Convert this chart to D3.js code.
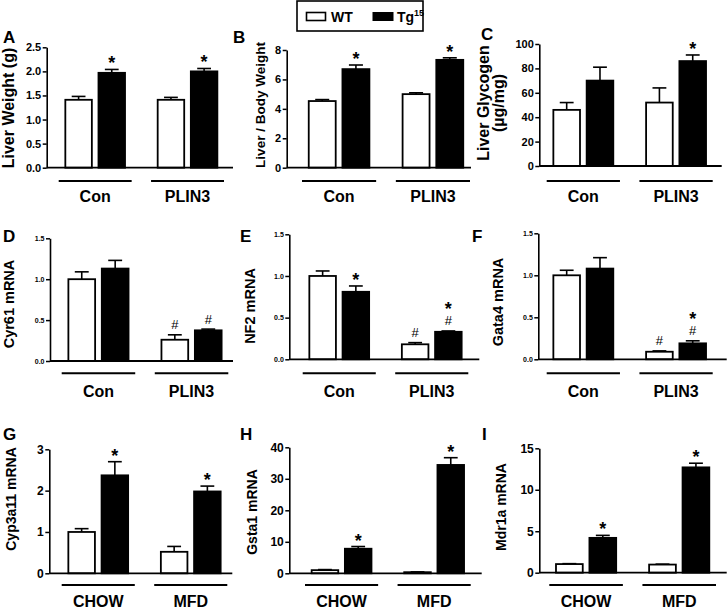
<!DOCTYPE html>
<html><head><meta charset="utf-8">
<script src="https://cdn.jsdelivr.net/npm/d3@7"></script>
<style>body{margin:0;background:#fff} svg{display:block}</style>
</head><body>
<svg id="c" width="728" height="609"></svg>
<script>
// ---------- DATA ----------
const panelIds = ["A","B","C","D","E","F","G","H","I"];
const seriesNames = ["WT","Tg15"];
const groupLabels = [["Con","PLIN3"],["Con","PLIN3"],["Con","PLIN3"],["Con","PLIN3"],["Con","PLIN3"],["Con","PLIN3"],["CHOW","MFD"],["CHOW","MFD"],["CHOW","MFD"]];
const yTitles = [["Liver Weight (g)"],["Liver / Body Weight"],["Liver Glycogen","(µg/mg)"],["Cyr61 mRNA"],["NF2 mRNA"],["Gata4 mRNA"],["Cyp3a11 mRNA"],["Gsta1 mRNA"],["Mdr1a mRNA"]];
const yTickValues = [[0,0.5,1,1.5,2,2.5],[0,2,4,6,8],[0,20,40,60,80,100],[0,0.5,1,1.5],[0,0.5,1,1.5],[0,0.5,1,1.5],[0,1,2,3],[0,10,20,30,40],[0,5,10,15]];
const yTickFormats = [".1f","d","d",".1f",".1f",".1f","d","d","d"];
const wtMean = [[1.41,1.41],[4.53,5.00],[46,52],[1.00,0.26],[1.00,0.18],[1.00,0.09],[1.00,0.52],[1.0,0.35],[1.04,0.98]];
const wtErr  = [[0.07,0.05],[0.10,0.09],[6,12],[0.09,0.06],[0.06,0.02],[0.06,0.01],[0.08,0.13],[0.18,0.1],[0.05,0.05]];
const tgMean = [[1.97,2.00],[6.70,7.33],[70,86],[1.13,0.375],[0.81,0.33],[1.08,0.19],[2.37,1.98],[7.8,34.4],[4.2,12.7]];
const tgErr  = [[0.07,0.06],[0.28,0.14],[11,5],[0.10,0.015],[0.07,0.01],[0.13,0.03],[0.33,0.13],[0.7,2.3],[0.3,0.5]];
const wtMarks = [["",""],["",""],["",""],["","#"],["","#"],["","#"],["",""],["",""],["",""]];
const tgMarks = [["*","*"],["*","*"],["","*"],["","#"],["*","*#"],["","*#"],["*","*"],["*","*"],["*","*"]];

// ---------- LAYOUT ----------
const FONT = "'Liberation Sans', Arial, Helvetica, sans-serif";
const layout = [
 {ax:46.7, ae:233,   g0:58.7,  g1:224,   yt:47.3,  yb:167.7, lx:3,   ly:43,    tx:[13.5],      ty:108, tfs:16, tw:"bold"},
 {ax:286.7,ae:471,   g0:302,   g1:470,   yt:50,    yb:167.7, lx:233, ly:43,    tx:[264.5],     ty:105, tfs:13.5, tw:"bold"},
 {ax:539.3,ae:721.7, g0:546.7, g1:712.7, yt:44,    yb:166,   lx:481, ly:40,    tx:[488.5,504], ty:103, tfs:16, tw:"bold"},
 {ax:50,   ae:233,   g0:61.7,  g1:228.3, yt:238.3, yb:361,   lx:3,   ly:242,   tx:[14],        ty:304, tfs:14.5, tw:"bold"},
 {ax:289.3,ae:479.3, g0:302.7, g1:468.3, yt:234.3, yb:359.3, lx:240, ly:242,   tx:[255],       ty:306, tfs:14.5, tw:"bold"},
 {ax:538.3,ae:726.7, g0:546.7, g1:712.7, yt:233.3, yb:359.3, lx:472, ly:242,   tx:[503],       ty:302, tfs:14.5, tw:"bold"},
 {ax:49.3, ae:232.3, g0:61.7,  g1:227.3, yt:449.3, yb:573.3, lx:3,   ly:439.5, tx:[15.5],      ty:499, tfs:14, tw:"bold"},
 {ax:289.3,ae:481.7, g0:305,   g1:470.7, yt:447.3, yb:573.3, lx:240, ly:439.5, tx:[257],       ty:512, tfs:14, tw:"bold"},
 {ax:539.3,ae:726.7, g0:549.3, g1:716,   yt:448.3, yb:572.7, lx:482, ly:439.5, tx:[505.5],     ty:507, tfs:14, tw:"bold"}
];
const rows = [
 {ulY:181,   labY:201.5, tickFs:11  },
 {ulY:373.3, labY:396.5, tickFs:7   },
 {ulY:585,   labY:606.5, tickFs:12  }
];

const svg = d3.select("#c").style("font-family", FONT);

panelIds.forEach((id, i) => {
  const P = layout[i], R = rows[Math.floor(i/3)];
  const g = svg.append("g");
  const yMax = d3.max(yTickValues[i]);
  const y = d3.scaleLinear().domain([0, yMax]).range([P.yb, P.yt]);
  const xo = d3.scaleBand().domain(groupLabels[i]).range([P.g0, P.g1]).paddingInner(0.21);
  const xi = d3.scaleBand().domain(seriesNames).range([0, xo.bandwidth()]).paddingInner(0.2).paddingOuter(0.2);

  const recs = [];
  groupLabels[i].forEach((grp, j) => {
    recs.push({grp, s:"WT", m:wtMean[i][j], e:wtErr[i][j], mk:wtMarks[i][j]});
    recs.push({grp, s:"Tg15", m:tgMean[i][j], e:tgErr[i][j], mk:tgMarks[i][j]});
  });

  const capW = xi.bandwidth()*0.52;
  recs.forEach(d => {
    const cx = xo(d.grp) + xi(d.s) + xi.bandwidth()/2;
    g.append("line").attr("x1",cx).attr("x2",cx).attr("y1",y(d.m)).attr("y2",y(d.m+d.e))
      .attr("stroke","#000").attr("stroke-width",1.6);
    g.append("line").attr("x1",cx-capW/2).attr("x2",cx+capW/2).attr("y1",y(d.m+d.e)).attr("y2",y(d.m+d.e))
      .attr("stroke","#000").attr("stroke-width",1.6);
  });
  g.selectAll("rect.bar").data(recs).enter().append("rect")
    .attr("x", d => xo(d.grp) + xi(d.s))
    .attr("width", xi.bandwidth())
    .attr("y", d => y(d.m))
    .attr("height", d => y(0) - y(d.m))
    .attr("fill", d => d.s === "WT" ? "#fff" : "#000")
    .attr("stroke", "#000").attr("stroke-width", 1.8);

  recs.forEach(d => {
    if (!d.mk) return;
    const cx = xo(d.grp) + xi(d.s) + xi.bandwidth()/2;
    const top = y(d.m + d.e);
    if (d.mk.includes("#")) {
      const hb = top - 5.5;
      g.append("text").attr("x",cx).attr("y",hb).attr("text-anchor","middle")
        .attr("font-size",13).text("#");
      if (d.mk.includes("*")) {
        g.append("text").attr("x",cx).attr("y",hb - 10).attr("text-anchor","middle")
          .attr("font-size",18).attr("font-weight","bold").text("*");
      }
    } else {
      g.append("text").attr("x",cx).attr("y",top).attr("text-anchor","middle")
        .attr("font-size",18).attr("font-weight","bold").text("*");
    }
  });

  const ya = g.append("g").attr("transform",`translate(${P.ax},0)`)
    .call(d3.axisLeft(y).tickValues(yTickValues[i]).tickFormat(d3.format(yTickFormats[i])).tickSize(4).tickSizeOuter(0).tickPadding(1.5));
  ya.select(".domain").attr("stroke","#000").attr("stroke-width",1.6);
  ya.selectAll(".tick line").attr("stroke","#000").attr("stroke-width",1.5);
  ya.selectAll(".tick text").attr("font-family",FONT).attr("font-size",R.tickFs).attr("font-weight","bold").attr("fill","#000");
  g.append("line").attr("x1",P.ax).attr("x2",P.ae).attr("y1",P.yb).attr("y2",P.yb)
    .attr("stroke","#000").attr("stroke-width",1.8);

  groupLabels[i].forEach(grp => {
    g.append("line").attr("x1",xo(grp)).attr("x2",xo(grp)+xo.bandwidth()).attr("y1",R.ulY).attr("y2",R.ulY)
      .attr("stroke","#000").attr("stroke-width",2);
    g.append("text").attr("x",xo(grp)+xo.bandwidth()/2).attr("y",R.labY).attr("text-anchor","middle")
      .attr("font-size",16).attr("font-weight","bold").text(grp);
  });

  g.append("text").attr("x",P.lx).attr("y",P.ly).attr("font-size",17).attr("font-weight","bold").text(id);

  yTitles[i].forEach((t, k) => {
    g.append("text").attr("transform",`translate(${P.tx[k]},${P.ty}) rotate(-90)`)
      .attr("text-anchor","middle").attr("font-size",P.tfs).attr("font-weight",P.tw).text(t);
  });
});

// legend
const lg = svg.append("g");
lg.append("rect").attr("x",297).attr("y",1).attr("width",126).attr("height",30)
  .attr("fill","#fff").attr("stroke","#000").attr("stroke-width",1.6);
lg.append("rect").attr("x",306.5).attr("y",12.5).attr("width",19).attr("height",8)
  .attr("fill","#fff").attr("stroke","#000").attr("stroke-width",1.6);
lg.append("text").attr("x",331).attr("y",21.5).attr("font-size",14).attr("font-weight","bold").text(seriesNames[0]);
lg.append("rect").attr("x",373).attr("y",12.5).attr("width",20).attr("height",8).attr("fill","#000").attr("stroke","#000");
const tgT = lg.append("text").attr("x",397).attr("y",21.5).attr("font-size",14).attr("font-weight","bold");
tgT.append("tspan").text("Tg");
tgT.append("tspan").attr("font-size",9).attr("dy",-6).text("15");
</script>
</body></html>
